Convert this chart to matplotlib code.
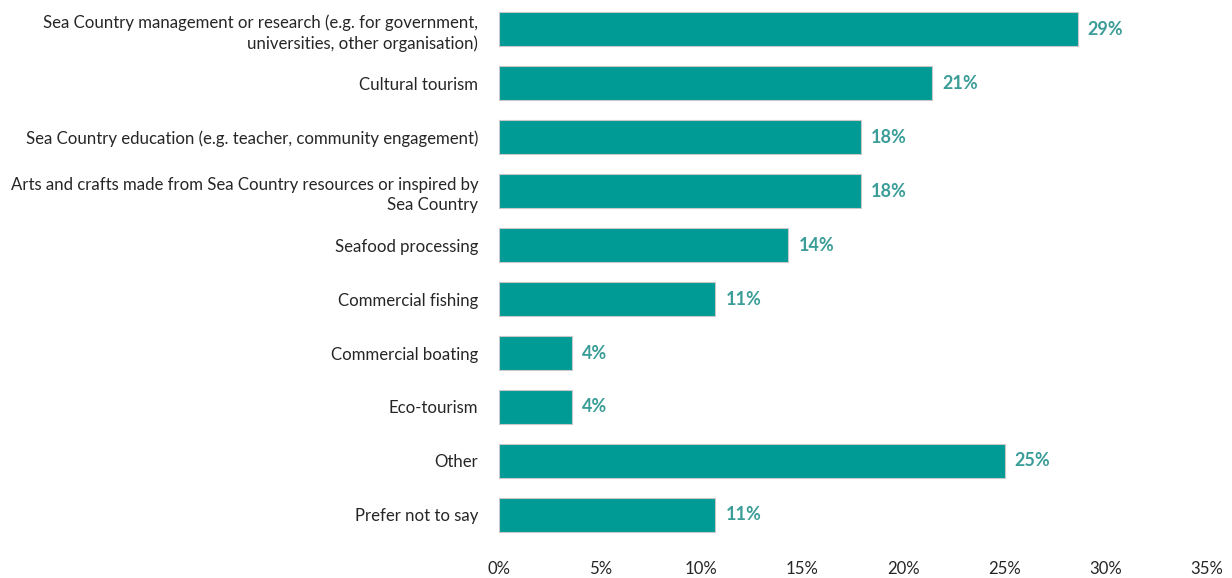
import matplotlib
matplotlib.use("Agg")
import matplotlib.pyplot as plt
from matplotlib.ticker import FuncFormatter

plt.rcParams['font.family'] = ['Lato', 'DejaVu Sans']

categories = [
    "Sea Country management or research (e.g. for government,\nuniversities, other organisation)",
    "Cultural tourism",
    "Sea Country education (e.g. teacher, community engagement)",
    "Arts and crafts made from Sea Country resources or inspired by\nSea Country",
    "Seafood processing",
    "Commercial fishing",
    "Commercial boating",
    "Eco-tourism",
    "Other",
    "Prefer not to say",
]
percent = [28.6, 21.4, 17.9, 17.9, 14.3, 10.7, 3.6, 3.6, 25.0, 10.7]
x_ticks = [0, 5, 10, 15, 20, 25, 30, 35]

bar_color = "#009b95"
label_color = "#3a9d97"
text_color = "#262626"

fig = plt.figure(figsize=(12.32, 5.78), dpi=100)
ax = fig.add_axes([0.405, 0.0623, 0.5747, 0.9342])

y = list(range(len(categories)))
ax.barh(y, percent, height=0.63, color=bar_color, edgecolor="#c8c8c8", linewidth=0.8)

for yi, v in zip(y, percent):
    ax.text(v + 0.5, yi, f"{v:.0f}%", va="center", ha="left",
            color=label_color, fontsize=13, fontweight="bold")

ax.set_xlim(0, 35)
ax.set_ylim(len(categories) - 0.5, -0.5)
ax.set_xticks(x_ticks)
ax.xaxis.set_major_formatter(FuncFormatter(lambda v, _: f"{v:.0f}%"))
ax.set_yticks(y)
ax.set_yticklabels(categories, ha="right", multialignment="right", linespacing=1.33)

ax.tick_params(axis="both", length=0, labelsize=12.1, colors=text_color)
ax.tick_params(axis="x", pad=14)
ax.tick_params(axis="y", pad=15)
for s in ax.spines.values():
    s.set_visible(False)

fig.savefig("out.png", dpi=100, facecolor="white")
